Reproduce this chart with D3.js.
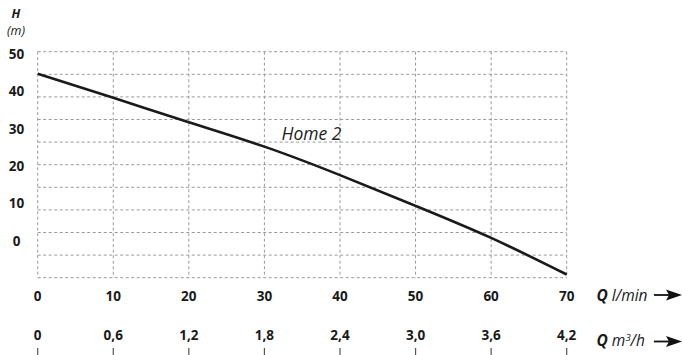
<!DOCTYPE html>
<html><head><meta charset="utf-8">
<script src="https://cdn.jsdelivr.net/npm/d3@7"></script>
<style>body{margin:0;background:#fff}svg{display:block}text{font-family:"Open Sans",sans-serif}</style>
</head><body><svg id="c" width="682" height="355"></svg>
<script>
const qLmin = [0, 10, 20, 30, 40, 50, 60, 70];
const headM = [45.1, 39.8, 34.4, 29.0, 22.7, 15.9, 8.8, 0.7];
const yTickLabels = [50, 40, 30, 20, 10, 0];
const yGridValues = [0, 5, 10, 15, 20, 25, 30, 35, 40, 45, 50];
const xTickLabels1 = ["0", "10", "20", "30", "40", "50", "60", "70"];
const xTickLabels2 = ["0", "0,6", "1,2", "1,8", "2,4", "3,0", "3,6", "4,2"];
const seriesName = "Home 2";

const svg = d3.select("#c");
const x = d3.scaleLinear().domain([0, 70]).range([37.7, 566.7]);
const y = d3.scaleLinear().domain([0, 50]).range([277.7, 51.7]);
const yLab = d3.scaleLinear().domain([0, 50]).range([241, 54]);
const gridColor = "#9a9a9a";

// grid
const g = svg.append("g");
g.selectAll("line.h").data(yGridValues).join("line")
  .attr("x1", x(0)).attr("x2", x(70))
  .attr("y1", d => y(d)).attr("y2", d => y(d))
  .attr("stroke", gridColor).attr("stroke-width", 1).attr("stroke-dasharray", "3,2.5");
g.selectAll("line.v").data(qLmin).join("line")
  .attr("x1", d => x(d)).attr("x2", d => x(d))
  .attr("y1", y(50)).attr("y2", y(0))
  .attr("stroke", gridColor).attr("stroke-width", 1).attr("stroke-dasharray", "3,2.5");

// curve
const line = d3.line().x((d, i) => x(qLmin[i])).y(d => y(d)).curve(d3.curveNatural);
svg.append("path").datum(headM).attr("d", line)
  .attr("fill", "none").attr("stroke", "#1a1a1a").attr("stroke-width", 2.6);

svg.append("text").attr("x", 281.5).attr("y", 139.5)
  .attr("font-size", 17.5).attr("font-style", "italic").attr("fill", "#222").text(seriesName);

// y labels
svg.selectAll("text.yl").data(yTickLabels).join("text")
  .attr("x", 16.5).attr("y", d => yLab(d)).attr("dy", "0.36em")
  .attr("text-anchor", "middle").attr("font-weight", "bold").attr("font-size", 13.5)
  .attr("fill", "#1a1a1a").text(d => d);

svg.append("text").attr("x", 16).attr("y", 17.5).attr("text-anchor", "middle")
  .attr("font-weight", "bold").attr("font-style", "italic").attr("font-size", 12.5).attr("fill", "#1a1a1a").text("H");
svg.append("text").attr("x", 16).attr("y", 35).attr("text-anchor", "middle")
  .attr("font-style", "italic").attr("font-size", 12.5).attr("fill", "#1a1a1a").text("(m)");

// x labels
svg.selectAll("text.x1").data(xTickLabels1).join("text")
  .attr("x", (d, i) => x(qLmin[i])).attr("y", 300.7)
  .attr("text-anchor", "middle").attr("font-weight", "bold").attr("font-size", 13.5)
  .attr("fill", "#1a1a1a").text(d => d);
svg.selectAll("text.x2").data(xTickLabels2).join("text")
  .attr("x", (d, i) => x(qLmin[i])).attr("y", 340)
  .attr("text-anchor", "middle").attr("font-weight", "bold").attr("font-size", 13.5)
  .attr("fill", "#1a1a1a").text(d => d);
svg.selectAll("line.tk").data(qLmin).join("line")
  .attr("x1", d => x(d)).attr("x2", d => x(d)).attr("y1", 348).attr("y2", 355)
  .attr("stroke", "#555").attr("stroke-width", 1.2);

// axis unit labels with arrows
function unit(yb, parts, ay) {
  const t = svg.append("text").attr("x", 596.5).attr("y", yb).attr("font-size", 15.5).attr("fill", "#1a1a1a");
  parts.forEach(p => {
    const s = t.append("tspan").text(p.t).attr("font-style", "italic");
    if (p.b) s.attr("font-weight", "bold");
    if (p.sup) s.attr("font-size", 9.5).attr("dy", -5.5);
    if (p.down) s.attr("dy", 5.5);
  });
  svg.append("line").attr("x1", 654).attr("x2", 671).attr("y1", ay).attr("y2", ay)
    .attr("stroke", "#111").attr("stroke-width", 1.8);
  svg.append("path").attr("d", `M666,${ay - 5.5}L682,${ay}L666,${ay + 5.5}L669,${ay}Z`).attr("fill", "#111");
}
unit(301, [{t: "Q", b: true}, {t: " l/min"}], 295);
unit(346, [{t: "Q", b: true}, {t: " m"}, {t: "3", sup: true}, {t: "/h", down: true}], 341.5);
</script></body></html>
